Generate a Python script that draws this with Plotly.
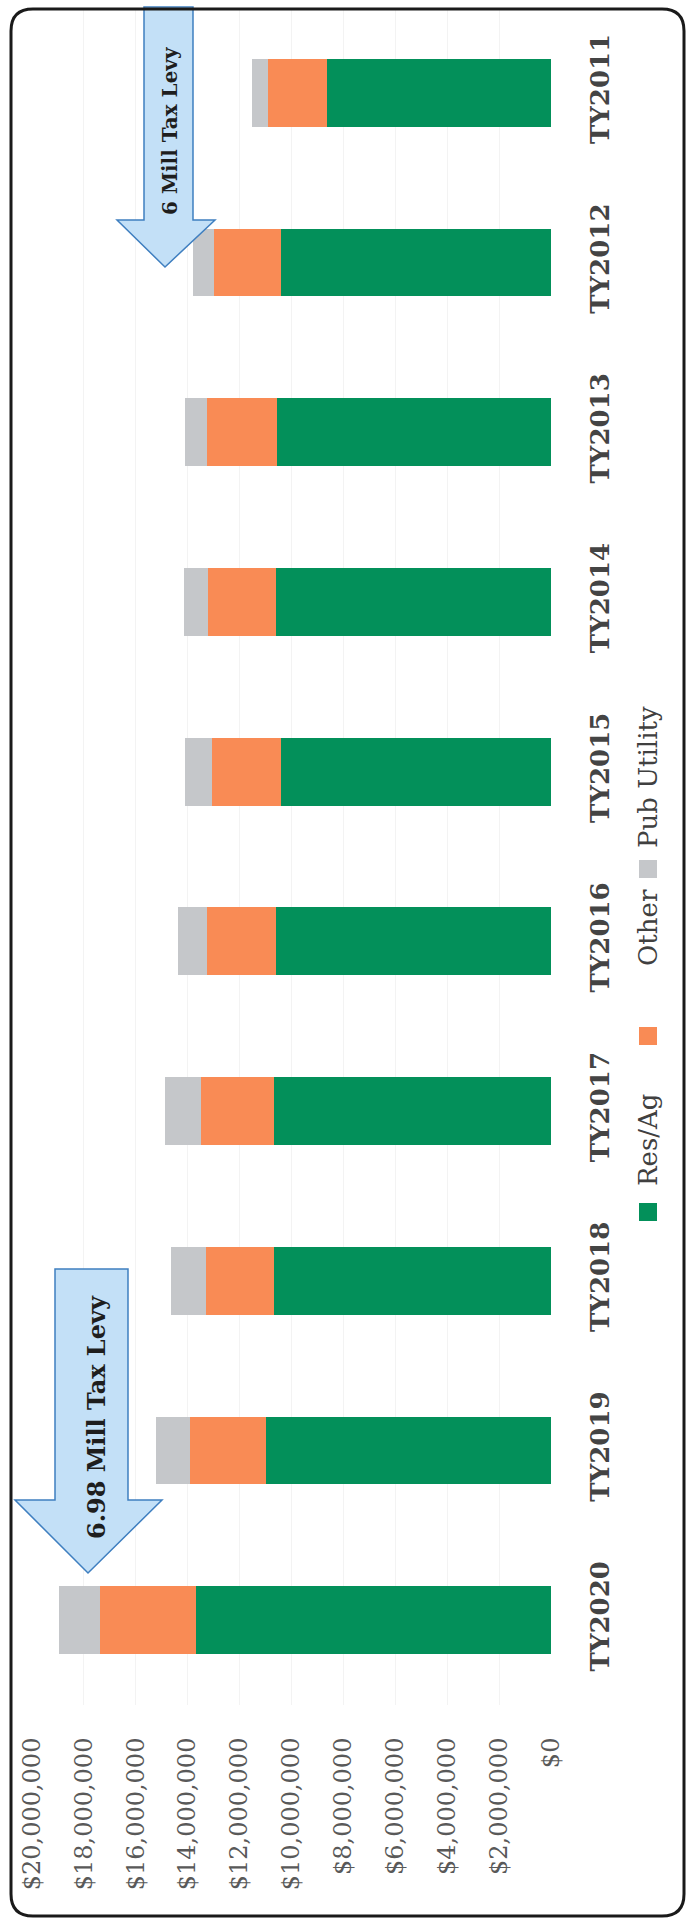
import plotly.graph_objects as go

# ---- data (TY2011 .. TY2020), dollars ----
years = ["TY2011", "TY2012", "TY2013", "TY2014", "TY2015",
         "TY2016", "TY2017", "TY2018", "TY2019", "TY2020"]
res_ag = [8650000, 10390000, 10540000, 10580000, 10390000,
          10580000, 10690000, 10690000, 11000000, 13670000]
other = [2240000, 2590000, 2700000, 2630000, 2660000,
         2660000, 2780000, 2590000, 2900000, 3710000]
pub_utility = [620000, 810000, 850000, 930000, 1040000,
               1120000, 1390000, 1350000, 1310000, 1580000]
value_ticks = [0, 2000000, 4000000, 6000000, 8000000, 10000000,
               12000000, 14000000, 16000000, 18000000, 20000000]
series_names = ["Res/Ag", "Other", "Pub Utility"]
arrow_labels = ["6 Mill Tax Levy", "6.98 Mill Tax Levy"]

# ---- styling ----
W, H = 695, 1928
L, R, T, B = 32, 144, 8, 223
PW, PH = W - L - R, H - T - B
GREEN, ORANGE, GRAY = "#03905a", "#f98b55", "#c5c7ca"
FONT = "DejaVu Serif"


def px(x):
    return (x - L) / PW


def py(y):
    return (H - B - y) / PH


def path(points):
    return "M " + " L ".join(f"{px(x):.5f},{py(y):.5f}" for x, y in points) + " Z"


fig = go.Figure()
for name, vals, color in zip(series_names, [res_ag, other, pub_utility],
                             [GREEN, ORANGE, GRAY]):
    fig.add_bar(y=years, x=vals, orientation="h", name=name,
                marker=dict(color=color, line=dict(width=0)), showlegend=False)

shapes = []
# arrows
arrow_small = [(144, 7), (193, 7), (193, 220), (215, 220), (165, 267), (117, 220), (144, 220)]
arrow_big = [(55, 1269), (128, 1269), (128, 1500), (162, 1500), (88, 1573), (15, 1500), (55, 1500)]
for pts in (arrow_small, arrow_big):
    shapes.append(dict(type="path", xref="paper", yref="paper", path=path(pts),
                       fillcolor="#c3e0f7", line=dict(color="#3f7fc0", width=1.5),
                       layer="above"))

# legend squares
for (y0, y1), color in zip([(1203, 1221), (1027, 1045), (860, 878)], [GREEN, ORANGE, GRAY]):
    shapes.append(dict(type="rect", xref="paper", yref="paper",
                       x0=px(639), x1=px(657), y0=py(y1), y1=py(y0),
                       fillcolor=color, line=dict(width=0)))

# rounded frame
x0, x1, y0, y1, r = 11, 684, 9, 1916, 22
frame = (f"M {px(x0 + r)},{py(y0)} L {px(x1 - r)},{py(y0)} "
         f"Q {px(x1)},{py(y0)} {px(x1)},{py(y0 + r)} "
         f"L {px(x1)},{py(y1 - r)} Q {px(x1)},{py(y1)} {px(x1 - r)},{py(y1)} "
         f"L {px(x0 + r)},{py(y1)} Q {px(x0)},{py(y1)} {px(x0)},{py(y1 - r)} "
         f"L {px(x0)},{py(y0 + r)} Q {px(x0)},{py(y0)} {px(x0 + r)},{py(y0)} Z")
shapes.append(dict(type="path", xref="paper", yref="paper", path=frame,
                   line=dict(color="#1a1a1a", width=3), layer="above"))

annotations = [
    dict(text=f"<b>{arrow_labels[0]}</b>", x=px(170), y=py(131), xref="paper", yref="paper",
         xanchor="center", yanchor="middle",
         showarrow=False, textangle=-90, font=dict(family=FONT, size=20, color="#1e1e1e")),
    dict(text=f"<b>{arrow_labels[1]}</b>", x=px(96), y=py(1417), xref="paper", yref="paper",
         xanchor="center", yanchor="middle",
         showarrow=False, textangle=-90, font=dict(family=FONT, size=24, color="#1e1e1e")),
]
for name, yc in zip(series_names, [1140, 928, 777]):
    annotations.append(dict(text=name, x=px(648), y=py(yc), xref="paper", yref="paper",
                            xanchor="center", yanchor="middle",
                            showarrow=False, textangle=-90,
                            font=dict(family=FONT, size=26, color="#404040")))

fig.update_layout(
    width=W, height=H,
    margin=dict(l=L, r=R, t=T, b=B, autoexpand=False),
    paper_bgcolor="white", plot_bgcolor="white",
    barmode="stack", bargap=0.6,
    font=dict(family=FONT),
    xaxis=dict(range=[20000000, 0], tickvals=value_ticks, tickformat="$,.0f",
               tickangle=-90, showgrid=True, gridcolor="#f3f3f3", gridwidth=1,
               zeroline=False, showline=False, ticks="outside", ticklen=22,
               tickcolor="rgba(0,0,0,0)", automargin=False,
               tickfont=dict(family=FONT, size=24, color="#595959")),
    yaxis=dict(categoryorder="array", categoryarray=years, autorange="reversed",
               side="right", tickangle=-90, showgrid=False, zeroline=False,
               showline=False, ticks="outside", ticklen=26,
               tickcolor="rgba(0,0,0,0)", automargin=False,
               tickfont=dict(family=FONT, size=26, color="#444444", weight="bold")),
    shapes=shapes, annotations=annotations,
)

fig.write_html("out.html")
